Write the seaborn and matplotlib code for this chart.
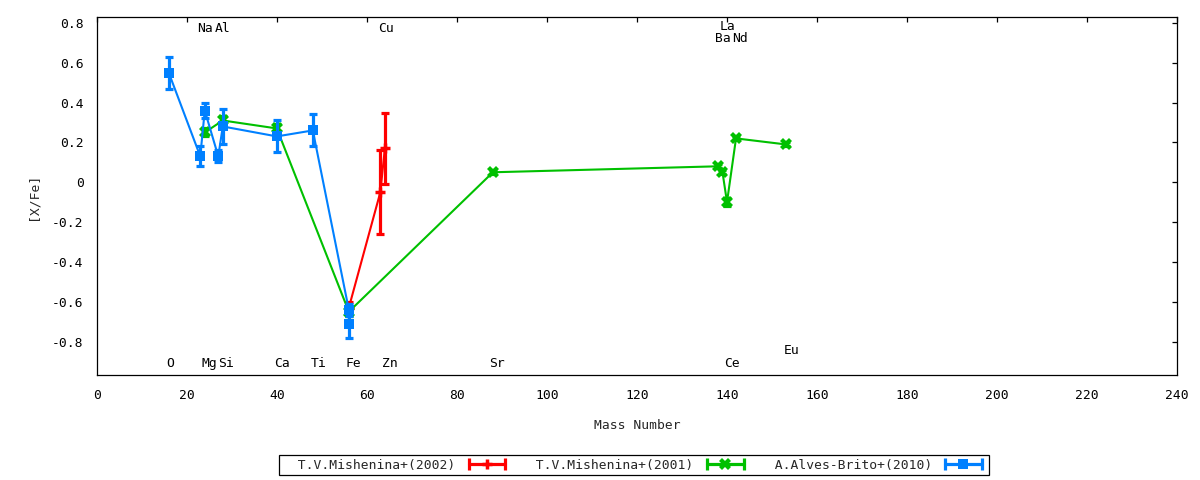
import numpy as np
import pandas as pd
import matplotlib
matplotlib.use("Agg")
import matplotlib.pyplot as plt
import seaborn as sns
from matplotlib.lines import Line2D
from matplotlib.legend_handler import HandlerLine2D, HandlerTuple

# T.V.Mishenina+(2002)
red_mass = [56, 63, 64]
red_val = [-0.63, -0.05, 0.17]
red_err = [0.03, 0.21, 0.18]

# T.V.Mishenina+(2001)
green_mass = [24, 28, 40, 56, 88, 138, 139, 140, 142, 153]
green_val = [0.25, 0.31, 0.27, -0.65, 0.05, 0.08, 0.05, -0.10, 0.22, 0.19]
green_err = [0.02, 0.02, 0.02, 0.02, 0.01, 0.01, 0.01, 0.02, 0.01, 0.01]

# A.Alves-Brito+(2010)
blue_mass = [16, 23, 24, 27, 28, 40, 48, 56, 56]
blue_val = [0.55, 0.13, 0.36, 0.13, 0.28, 0.23, 0.26, -0.64, -0.71]
blue_err = [0.08, 0.05, 0.04, 0.03, 0.09, 0.08, 0.08, 0.03, 0.07]

# element name labels
elem_names = ["O", "Na", "Mg", "Al", "Si", "Ca", "Ti", "Fe", "Cu", "Zn",
              "Sr", "Ba", "La", "Ce", "Nd", "Eu"]
elem_x = [16.3, 24.0, 25.0, 28.0, 28.8, 41.1, 49.2, 57.1, 64.2, 65.2,
          89.0, 139.1, 140.2, 141.1, 142.8, 154.3]
elem_y = [-0.912, 0.772, -0.912, 0.772, -0.912, -0.912, -0.912, -0.912, 0.772, -0.912,
          -0.912, 0.722, 0.78, -0.912, 0.722, -0.845]

xticks = list(range(0, 241, 20))
yticks = [-0.8, -0.6, -0.4, -0.2, 0, 0.2, 0.4, 0.6, 0.8]
ytick_labels = ["-0.8", "-0.6", "-0.4", "-0.2", "0", "0.2", "0.4", "0.6", "0.8"]

RED = "#ff0000"
GREEN = "#00c000"
BLUE = "#0080ff"
FS = 9.4

sns.set_theme(style="white")
plt.rcParams['font.family'] = ['DejaVu Sans Mono', 'DejaVu Sans']
plt.rcParams['axes.edgecolor'] = 'black'
plt.rcParams['axes.linewidth'] = 0.9


def plot_series(ax, mass, val, err, color, marker, ms, mew, z):
    df = pd.DataFrame({"mass": mass, "val": val})
    sns.lineplot(x="mass", y="val", data=df, sort=False, estimator=None,
                 color=color, linewidth=1.5, ax=ax, legend=False, zorder=z)
    ax.errorbar(mass, val, yerr=err, fmt='none', ecolor=color, elinewidth=2.3,
                capsize=3.0, capthick=2.3, zorder=z + 0.1)
    ax.plot(mass, val, ls='none', marker=marker, ms=ms, mew=mew,
            color=color, mec=color, zorder=z + 0.2)


fig, ax = plt.subplots(figsize=(12, 4.8), dpi=100)
fig.subplots_adjust(left=0.0806, right=0.981, top=0.964, bottom=0.219)

plot_series(ax, red_mass, red_val, red_err, RED, '+', 7.5, 2.5, 3)
plot_series(ax, green_mass, green_val, green_err, GREEN, 'X', 8, 0, 4)
plot_series(ax, blue_mass, blue_val, blue_err, BLUE, 's', 7.3, 0, 5)

for name, x, y in zip(elem_names, elem_x, elem_y):
    ax.text(x, y, name, ha='center', va='center', fontsize=FS, color='black')

ax.set_xlim(0, 240)
ax.set_ylim(-0.967, 0.828)
ax.set_xticks(xticks)
ax.set_xticklabels([str(t) for t in xticks])
ax.set_yticks(yticks)
ax.set_yticklabels(ytick_labels)
ax.tick_params(axis='both', direction='in', length=3.6, width=0.9,
               top=True, right=True, labelsize=FS, colors='black')
ax.tick_params(axis='x', pad=10.5)
ax.tick_params(axis='y', pad=9.5)
for s in ax.spines.values():
    s.set_visible(True)
    s.set_color('black')

ax.set_xlabel("Mass Number", fontsize=FS)
ax.xaxis.set_label_coords(0.5, -0.122)
ax.set_ylabel("[X/Fe]", fontsize=FS)
ax.yaxis.set_label_coords(-0.0534, 0.5)

# legend: text then "|--marker--|" sample
handles = []
hmap = {}
for color, marker, ms, mew in [(RED, '+', 7.5, 2.5), (GREEN, 'X', 8, 0), (BLUE, 's', 7.3, 0)]:
    bar = Line2D([], [], color=color, lw=2.3, marker='|', ms=9, mew=2.3)
    mid = Line2D([], [], color=color, ls='none', marker=marker, ms=ms, mew=mew, mec=color)
    hmap[bar] = HandlerLine2D(numpoints=2)
    hmap[mid] = HandlerLine2D(numpoints=1)
    handles.append((bar, mid))
hmap[tuple] = HandlerTuple(ndivide=1, pad=0)

labels = ["  T.V.Mishenina+(2002)", "  T.V.Mishenina+(2001)", "  A.Alves-Brito+(2010)"]
leg = fig.legend(handles, labels, handler_map=hmap, loc='center left',
                 bbox_to_anchor=(279 / 1200, 1 - 465 / 480), borderaxespad=0,
                 ncol=3, fontsize=FS, markerfirst=False, frameon=True,
                 fancybox=False, framealpha=1, edgecolor='black',
                 handlelength=3.4, handletextpad=0.72, columnspacing=0.85,
                 borderpad=0.25)
leg.get_frame().set_linewidth(0.9)

fig.savefig("out.png", dpi=100)
